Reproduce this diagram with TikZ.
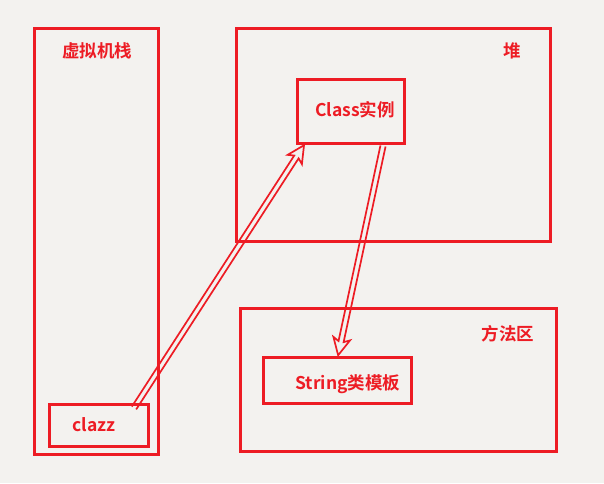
\documentclass[tikz,border=0pt]{standalone}
\usepackage{fontspec}
\setmainfont{Noto Sans CJK SC}[BoldFont={Noto Sans CJK SC Bold}]
\definecolor{pred}{HTML}{ED1C24}
\definecolor{bg}{HTML}{F3F2EF}
\begin{document}
\begin{tikzpicture}[x=1pt,y=-1pt,
  box/.style={draw=pred,line width=3pt},
  lbl/.style={text=pred,font=\bfseries\fontsize{17.5}{20}\selectfont,inner sep=0pt},
  hline/.style={draw=pred,line width=1.7pt,line join=miter},
  pics/harrow/.style={code={
    \draw[hline] (0,2.6) -- (#1-14,2.6) -- (#1-17,8.5) -- (#1,0) -- (#1-17,-8.5) -- (#1-14,-2.6) -- (0,-2.6);
  }}]
\fill[bg] (0,0) rectangle (604,483);
\useasboundingbox (0,0) rectangle (604,483);
\draw[box] (34,28) rectangle (158,454);
\draw[box] (236,28) rectangle (550,241);
\draw[box] (240,308) rectangle (556,451);
\node[box,minimum width=107pt,minimum height=64pt,anchor=north west,inner sep=0pt] (cls) at (296,78) {};
\node[box,minimum width=148pt,minimum height=46pt,anchor=north west,inner sep=0pt] (str) at (262,356) {};
\node[box,minimum width=99pt,minimum height=42pt,anchor=north west,inner sep=0pt] (clazz) at (48,403) {};
\node[lbl] (t1) at (97,51) {虚拟机栈};
\node[lbl] (t2) at (512,51) {堆};
\node[lbl] (t3) at (508,334) {方法区};
\node[lbl] (t4) at (355,110) {Class实例};
\node[lbl] (t5) at (348,384) {String类模板};
\node[lbl] (t6) at (94,425) {clazz};
\coordinate (a1s) at (134,408);
\coordinate (a2s) at (383,146);
\pic[shift={(a1s)},rotate=57.1] {harrow=313};
\pic[shift={(a2s)},rotate=-102.1] {harrow=214};
\end{tikzpicture}
\end{document}
